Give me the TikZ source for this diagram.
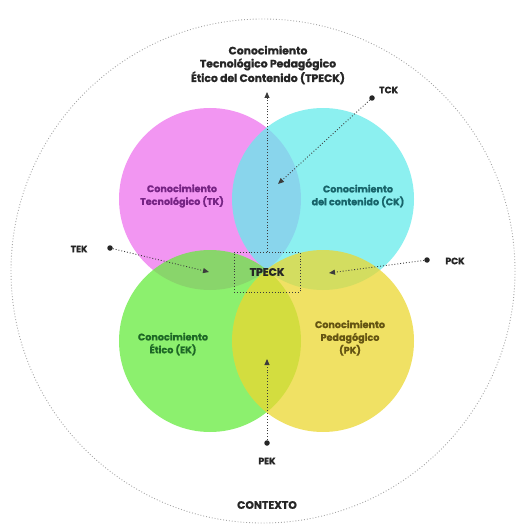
\documentclass[tikz,border=0pt]{standalone}
\usepackage{fontspec}
\setmainfont{Poppins}[BoldFeatures={FakeBold=1.0}]
\usetikzlibrary{arrows.meta}

% circle fills (applied with fill opacity 0.75)
\definecolor{tkfill}{RGB}{238,115,238}
\definecolor{ckfill}{RGB}{102,235,235}
\definecolor{ekfill}{RGB}{102,235,62}
\definecolor{pkfill}{RGB}{235,215,48}
% label colours
\definecolor{tktext}{RGB}{118,36,132}
\definecolor{cktext}{RGB}{24,100,106}
\definecolor{ektext}{RGB}{30,104,38}
\definecolor{pktext}{RGB}{100,84,18}
\definecolor{linegray}{RGB}{60,60,60}

\tikzset{
  knowledge/.style={fill opacity=0.75, draw=none},
  circlelabel/.style={font=\fontsize{9.6}{12.8}\selectfont\bfseries, align=center, inner sep=0pt},
  title/.style={font=\fontsize{10.8}{13}\selectfont\bfseries, align=center, inner sep=0pt, text=black!85},
  tag/.style={font=\fontsize{9.2}{10}\selectfont\bfseries, inner sep=0pt, text=black!85},
  dotpt/.style={circle, fill=black!85, minimum size=5.5pt, inner sep=0pt},
  pointer/.style={draw=linegray, dotted, line width=0.9pt, -{Triangle[length=6pt,width=5pt]}},
  corebox/.style={draw=linegray, dotted, line width=0.9pt, minimum width=66pt, minimum height=40pt, inner sep=0pt,
                  font=\fontsize{10.8}{11}\selectfont\bfseries, text=black!85}
}

\begin{document}
\begin{tikzpicture}[x=1pt, y=-1pt]
\useasboundingbox (0,0) rectangle (521,524);

% context boundary
\draw[draw=gray!70, dotted, line width=0.9pt] (263,271) circle[radius=252];

% the four knowledge domains
\fill[knowledge, tkfill] (210,199) circle[radius=91];
\fill[knowledge, ckfill] (323,199) circle[radius=91];
\fill[knowledge, ekfill] (210,341) circle[radius=91];
\fill[knowledge, pkfill] (323,341) circle[radius=91];

\node[circlelabel, text=tktext] (tk) at (182,196) {Conocimiento\\Tecnológico (TK)};
\node[circlelabel, text=cktext] (ck) at (358,196) {Conocimiento\\del contenido (CK)};
\node[circlelabel, text=ektext] (ek) at (173,344) {Conocimiento\\Ético (EK)};
\node[circlelabel, text=pktext] (pk) at (350,338) {Conocimiento\\Pedagógico\\(PK)};

% central intersection
\node[corebox] (tpeck) at (267,272) {TPECK};

% title and context
\node[title] (tpecktitle) at (268,65) {Conocimiento\\Tecnológico Pedagógico\\Ético del Contenido (TPECK)};
\node[title] (contexto) at (267,505) {CONTEXTO};

% pairwise intersections pointing inwards
\node[dotpt] (tckdot) at (372,98) {};
\node[tag, anchor=west] (tck) at (379,90) {TCK};
\node[dotpt] (tekdot) at (110,248) {};
\node[tag] (tek) at (79,249) {TEK};
\node[dotpt] (pckdot) at (427,260) {};
\node[tag] (pck) at (455,261) {PCK};
\node[dotpt] (pekdot) at (267,443) {};
\node[tag] (pek) at (267,461) {PEK};

\coordinate (titletip) at (267,92);
\coordinate (tcktip) at (278,184);
\coordinate (tektip) at (209,272);
\coordinate (pcktip) at (329,273);
\coordinate (pektip) at (267,359);

\draw[pointer] (tpeck.north) -- (titletip);
\draw[pointer] (tckdot) -- (tcktip);
\draw[pointer] (tekdot) -- (tektip);
\draw[pointer] (pckdot) -- (pcktip);
\draw[pointer] (pekdot) -- (pektip);
\end{tikzpicture}
\end{document}
